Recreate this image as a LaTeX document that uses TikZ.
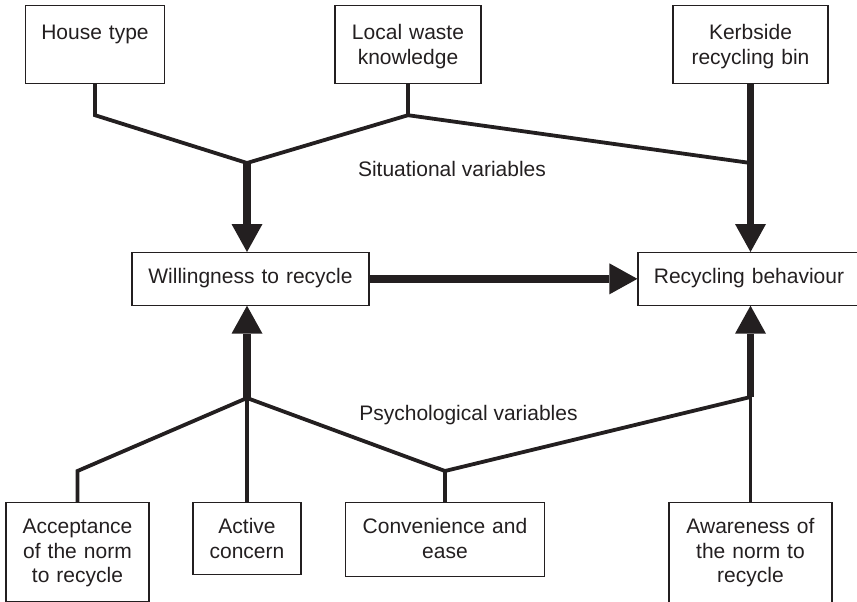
\documentclass[tikz,border=0pt]{standalone}
\usepackage{fontspec}
\setmainfont{Liberation Sans}
\usetikzlibrary{arrows.meta}
\definecolor{ink}{RGB}{35,31,32}
\begin{document}
\begin{tikzpicture}[x=1pt,y=-1pt,
  every node/.style={font=\fontsize{21}{24.5}\selectfont, text=ink},
  box/.style={draw=ink, line width=1.2pt, inner sep=0pt, align=center,
    anchor=north, text width=#1},
  link/.style={draw=ink, line width=3.8pt, line join=miter},
  flow/.style={draw=ink, line width=7.8pt,
    -{Triangle[width=31pt,length=28pt,line width=0pt]}},
]
\useasboundingbox (0,0) rectangle (857,602);

% situational variables (top row)
\node[box=139pt, text height=34pt, text depth=44pt] (house) at (95,5) {House type};
\node[box=146pt, text height=34pt, text depth=44pt] (local) at (408,5) {Local waste\\knowledge};
\node[box=155pt, text height=34pt, text depth=44pt] (kerb) at (750.5,5) {Kerbside\\recycling bin};

% central stages
\node[box=237pt, text height=31pt, text depth=21.5pt] (will) at (250.5,252) {Willingness to recycle};
\node[box=222pt, text height=31pt, text depth=21.5pt] (rec) at (749,252) {Recycling behaviour};

% psychological variables (bottom row)
\node[box=143pt, text height=31pt, text depth=67.7pt] (accept) at (77.5,502) {Acceptance\\of the norm\\to recycle};
\node[box=108pt, text height=31pt, text depth=41pt] (active) at (247,502) {Active\\concern};
\node[box=199pt, text height=31pt, text depth=43pt] (conv) at (445,502) {Convenience and\\ease};
\node[box=163pt, text height=31pt, text depth=72pt] (aware) at (750.5,502) {Awareness of\\the norm to\\recycle};

% group labels
\node[anchor=base] (sitlbl) at (452,176.5) {Situational variables};
\node[anchor=base] (psylbl) at (468.5,420.5) {Psychological variables};

% junction points
\coordinate (S) at (247,163);
\coordinate (K) at (750.5,163);
\coordinate (P) at (247,398);
\coordinate (A) at (750.5,397);
\coordinate (C) at (445,471);

% situational connectors
\draw[link] (house.south) -- ++(0,31) -- (S);
\draw[link] (local.south) -- ++(0,31) coordinate (L) -- (S);
\draw[link] (L) -- (K);
\draw[flow] (S) -- (S |- will.north);
\draw[flow] (kerb.south) -- (kerb.south |- rec.north);

% willingness leads to behaviour
\draw[flow] (will.east) -- (rec.west);

% psychological connectors
\draw[link] (accept.north) -- ++(0,-31) -- (P);
\draw[link] (active.north) -- (P);
\draw[link] (conv.north) -- (C) -- (P);
\draw[link] (C) -- (A);
\draw[link] (aware.north) -- (A);
\draw[flow] (P) -- (P |- will.south);
\draw[flow] (A) -- (A |- rec.south);
\end{tikzpicture}
\end{document}
